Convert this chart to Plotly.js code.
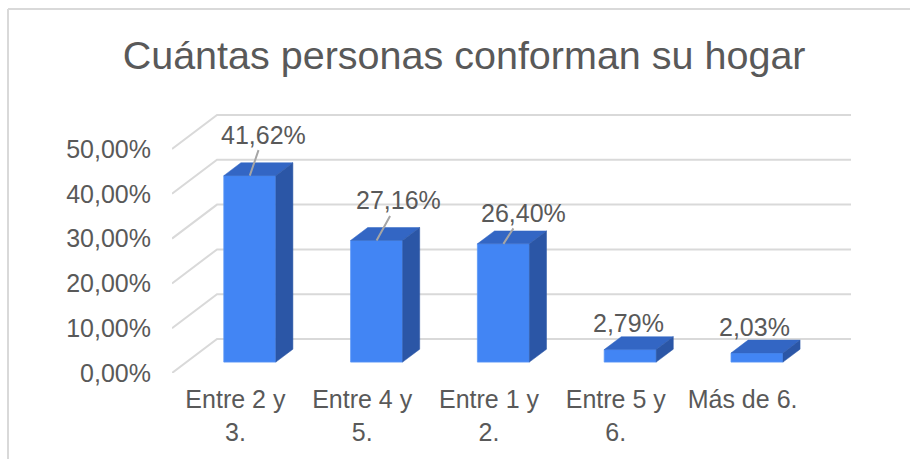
<!DOCTYPE html>
<html>
<head>
<meta charset="utf-8">
<script src="https://cdn.plot.ly/plotly-3.0.1.min.js"></script>
<style>html,body{margin:0;padding:0;background:#fff;}#chart{width:910px;height:459px;}</style>
</head>
<body>
<div id="chart"></div>
<script>
// ---- data ----
const categories = ['Entre 2 y<br>3.', 'Entre 4 y<br>5.', 'Entre 1 y<br>2.', 'Entre 5 y<br>6.', 'Más de 6.'];
const values = [41.62, 27.16, 26.40, 2.79, 2.03];
const yTicks = [0, 10, 20, 30, 40, 50];
const titleText = 'Cuántas personas conforman su hogar';

// ---- styling / pseudo-3D geometry ----
const W = 910, H = 459;
const margin = {l: 172, r: 59, t: 113, b: 86, pad: 0};
const plotH = H - margin.t - margin.b;
const pxPerPct = 4.48;
const yMax = plotH / pxPerPct;
const depthX = 0.355;   // wall depth in category units
const depthY = 7.59;    // wall depth in percent units
const f1 = 0.32, f2 = 0.70;  // bar front/back depth fractions
const barW = 0.41;
const xMin = -0.5, xMax = categories.length - 0.5 + depthX;
const labelAx = [14, 22, 20, -2, -2];
const labelAy = [-41, -40, -31, -27, -26];
const leader = [true, true, true, false, false];
const txtColor = '#595959';
const gridColor = '#d9d9d9';
const FONT = 'Liberation Sans, Arial, sans-serif';
const cFront = '#4285F4', cTop = '#3366C4', cSide = '#2B56A6';

const fmt = v => v.toFixed(2).replace('.', ',') + '%';
const idx = categories.map((_, i) => i);

// gridlines (side wall diagonal + back wall), drawn below the bars
const gridShapes = yTicks.map(v => ({
  type: 'path', xref: 'x', yref: 'y', layer: 'below',
  path: 'M' + xMin + ',' + v + ' L' + (xMin + depthX) + ',' + (v + depthY) +
        ' L' + (categories.length - 0.5 + depthX) + ',' + (v + depthY),
  line: {color: gridColor, width: 2}
}));

const traces = [];
// front faces
traces.push({
  type: 'bar',
  x: idx.map(i => i + f1 * depthX),
  y: values,
  base: values.map(() => f1 * depthY),
  width: barW,
  marker: {color: cFront, line: {width: 0.8, color: '#5b97f6'}},
  hoverinfo: 'skip', showlegend: false
});

// top and side faces
values.forEach((v, i) => {
  const x0 = i - barW / 2, x1 = i + barW / 2;
  traces.push({
    type: 'scatter', mode: 'lines', fill: 'toself',
    x: [x0 + f1 * depthX, x1 + f1 * depthX, x1 + f2 * depthX, x0 + f2 * depthX, x0 + f1 * depthX],
    y: [v + f1 * depthY, v + f1 * depthY, v + f2 * depthY, v + f2 * depthY, v + f1 * depthY],
    fillcolor: cTop, line: {width: 0.5, color: cTop},
    hoverinfo: 'skip', showlegend: false
  });
  traces.push({
    type: 'scatter', mode: 'lines', fill: 'toself',
    x: [x1 + f1 * depthX, x1 + f2 * depthX, x1 + f2 * depthX, x1 + f1 * depthX, x1 + f1 * depthX],
    y: [f1 * depthY, f2 * depthY, v + f2 * depthY, v + f1 * depthY, f1 * depthY],
    fillcolor: cSide, line: {width: 0.5, color: cSide},
    hoverinfo: 'skip', showlegend: false
  });
});

const annotations = values.map((v, i) => ({
  x: i + f1 * depthX, y: v + f1 * depthY, xref: 'x', yref: 'y',
  text: fmt(v), showarrow: true, arrowhead: 0, arrowwidth: 2,
  arrowcolor: leader[i] ? '#a6a6a6' : 'rgba(0,0,0,0)',
  ax: labelAx[i], ay: labelAy[i], standoff: 0, startstandoff: 0,
  font: {family: FONT, size: 25, color: txtColor}
}));

const toPX = px => (px - margin.l) / (W - margin.l - margin.r);
const toPY = py => (H - margin.b - py) / plotH;

const layout = {
  width: W, height: H, margin: margin,
  paper_bgcolor: '#fff', plot_bgcolor: 'rgba(0,0,0,0)',
  font: {family: FONT, color: txtColor},
  title: {text: titleText, font: {family: FONT, size: 39.5, color: txtColor},
          xref: 'container', yref: 'container', x: 0.51, y: 1 - 55 / H,
          xanchor: 'center', yanchor: 'middle'},
  xaxis: {range: [xMin, xMax], tickvals: idx, ticktext: categories,
          showgrid: false, zeroline: false, showline: false, ticks: '',
          tickfont: {family: FONT, size: 25, color: txtColor}, ticklabelstandoff: 9,
          fixedrange: true},
  yaxis: {range: [0, yMax], tickvals: yTicks, ticktext: yTicks.map(fmt),
          showgrid: false, zeroline: false, showline: false, ticks: '',
          tickfont: {family: FONT, size: 25, color: txtColor}, ticklabelstandoff: 20,
          fixedrange: true},
  bargap: 0,
  showlegend: false,
  annotations: annotations,
  shapes: gridShapes.concat([
    {type: 'line', xref: 'paper', yref: 'paper', x0: toPX(8), x1: toPX(W + 5), y0: toPY(9), y1: toPY(9),
     line: {color: gridColor, width: 2}},
    {type: 'line', xref: 'paper', yref: 'paper', x0: toPX(8), x1: toPX(8), y0: toPY(9), y1: toPY(H + 5),
     line: {color: gridColor, width: 2}}
  ])
};

Plotly.newPlot('chart', traces, layout, {staticPlot: true, displayModeBar: false});
</script>
</body>
</html>
